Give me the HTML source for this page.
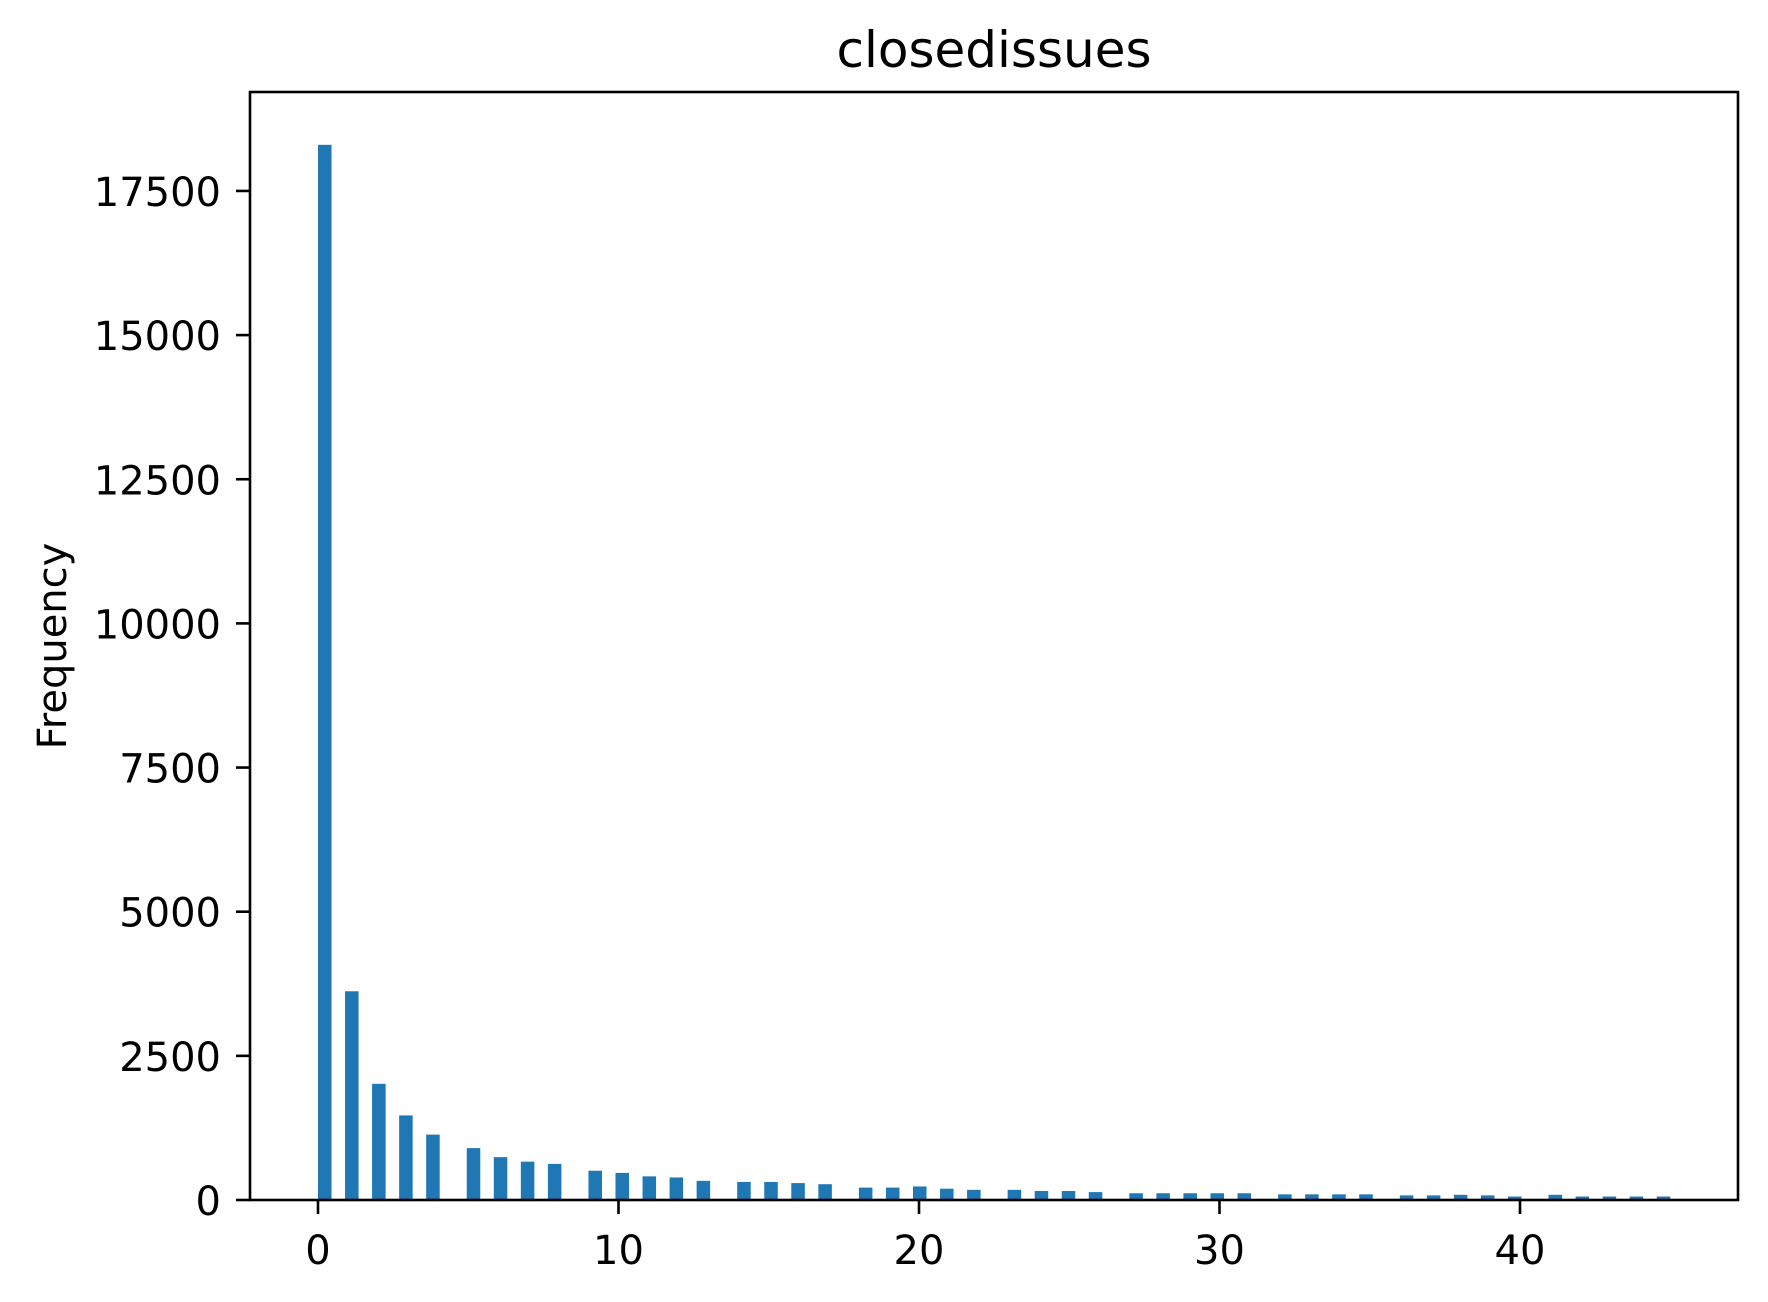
<!DOCTYPE html>
<html><head><meta charset="utf-8"><style>body{margin:0;background:#fff}svg{display:block}text{font-family:"DejaVu Sans","Liberation Sans",sans-serif;fill:#000}</style></head>
<body>
<svg id="chart" width="1768" height="1302" viewBox="0 0 1768 1302" xmlns="http://www.w3.org/2000/svg">
<rect width="1768" height="1302" fill="#fff"/>
<text x="994" y="67" font-size="50" text-anchor="middle">closedissues</text>
<text transform="translate(66,646) rotate(-90)" font-size="40" text-anchor="middle">Frequency</text>
<g id="bars"></g>
<g id="axes"></g>
</svg>
<script>
const values = [18300,3620,2015,1467,1134,900,743,665,626,508,470,410,391,332,313,313,293,274,215,215,235,196,176,176,156,156,137,117,117,117,117,117,98,98,98,98,80,80,90,80,60,90,60,60,60,60];
const categories = values.map((v,i)=>i);
const xTicks = [0,10,20,30,40];
const yTicks = [0,2500,5000,7500,10000,12500,15000,17500];
const binWidth = 0.45;
const nBins = 100;

const L=250,R=1738,T=92,B=1200;
const x = v => 318 + (v)*30.05;
const y = v => B - v*0.05766;
const ns="http://www.w3.org/2000/svg";
const bars=document.getElementById('bars'), axes=document.getElementById('axes');
function mk(tag,attrs,parent){const e=document.createElementNS(ns,tag);for(const k in attrs)e.setAttribute(k,attrs[k]);parent.appendChild(e);return e;}
categories.forEach((c,i)=>{
  const idx=Math.min(nBins-1,Math.floor(c/binWidth+1e-9));
  const x0=x(idx*binWidth), x1=x((idx+1)*binWidth);
  const r=mk('rect',{x:x0,y:y(values[i]),width:x1-x0,height:B-y(values[i]),fill:'#1f77b4'},bars);
  
  
});
const frame=mk('rect',{x:L,y:T,width:R-L,height:B-T,fill:'none',stroke:'#000','stroke-width':2.6},axes);


xTicks.forEach(t=>{
  mk('line',{x1:x(t),x2:x(t),y1:B,y2:B+14,stroke:'#000','stroke-width':2.6},axes);
  const tx=mk('text',{x:x(t),y:1264,'font-size':40,'text-anchor':'middle'},axes);
  tx.textContent=t;
  
  
});
yTicks.forEach(t=>{
  mk('line',{x1:L-14,x2:L,y1:y(t),y2:y(t),stroke:'#000','stroke-width':2.6},axes);
  const tx=mk('text',{x:221,y:y(t)+15,'font-size':40,'text-anchor':'end'},axes);
  tx.textContent=t;
  
  
});
</script>
</body></html>
